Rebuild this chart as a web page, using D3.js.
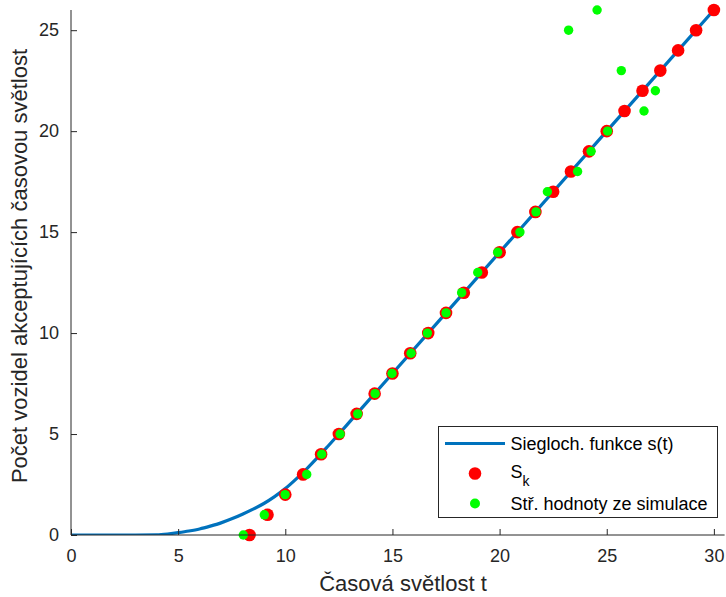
<!DOCTYPE html>
<html lang="cs">
<head>
  <meta charset="UTF-8">
  <title>Siegloch</title>
  <script src="https://d3js.org/d3.v7.min.js"></script>
  <style>
    body { margin: 0; background: #fff; }
    svg { display: block; font-family: "Liberation Sans", Arial, sans-serif; }
    .axis path, .axis line { stroke: #262626; }
    .axis text { fill: #262626; font-size: 18px; }
  </style>
</head>
<body>
  <svg width="726" height="597"></svg>
  <script>
    // Siegloch curve s(t)
    const curveT = [0, 2, 3, 4, 4.5, 5, 5.5, 6, 6.5, 7, 7.5, 8, 8.5, 9, 9.5, 10, 10.5, 11, 11.5, 12, 12.5, 13, 15, 20, 25, 30, 30.5];
    const curveS = [0, 0, 0, 0.01, 0.05, 0.12, 0.2, 0.3, 0.44, 0.6, 0.8, 1.03, 1.28, 1.56, 1.9, 2.3, 2.77, 3.28, 3.83, 4.41, 5.0, 5.6, 8.0, 14.0, 20.0, 26.0, 26.6];

    // S_k points
    const skK = d3.range(0, 27);
    const skT = [8.33, 9.17, 10.0, 10.83, 11.67, 12.5, 13.33, 14.17, 15.0, 15.83, 16.67, 17.5, 18.33, 19.17,
                 20.0, 20.83, 21.67, 22.5, 23.33, 24.17, 25.0, 25.83, 26.67, 27.5, 28.33, 29.17, 30.0];

    // mean values from simulation
    const simK = [0, 1, 2, 3, 4, 5, 6, 7, 8, 9, 10, 11, 12, 13, 14, 15, 16, 17, 18, 19, 20, 21, 22, 23, 25, 26];
    const simT = [8.04, 9.02, 9.99, 11.0, 11.7, 12.56, 13.38, 14.19, 14.98, 15.87, 16.63, 17.5, 18.23, 18.98,
                  19.91, 20.95, 21.7, 22.23, 23.64, 24.27, 25.04, 26.74, 27.27, 25.68, 23.22, 24.55];

    const xTicks = [0, 5, 10, 15, 20, 25, 30];
    const yTicks = [0, 5, 10, 15, 20, 25];

    const svg = d3.select("svg");
    const pl = 71, pr = 724.6, pt = 10, pb = 535;

    const x = d3.scaleLinear().domain([0, 30.5]).range([pl, pr]);
    const y = d3.scaleLinear().domain([0, 26]).range([pb, pt]);

    svg.append("defs").append("clipPath").attr("id", "plotclip")
      .append("rect").attr("x", pl).attr("y", pt).attr("width", pr - pl).attr("height", pb - pt);

    const line = d3.line()
      .x((d, i) => x(curveT[i]))
      .y(d => y(d))
      .curve(d3.curveMonotoneX);

    svg.append("path")
      .datum(curveS)
      .attr("clip-path", "url(#plotclip)")
      .attr("d", line)
      .attr("fill", "none")
      .attr("stroke", "#0072BD")
      .attr("stroke-width", 3.2);

    svg.selectAll("circle.sk")
      .data(skK)
      .join("circle")
      .attr("class", "sk")
      .attr("cx", (d, i) => x(skT[i]))
      .attr("cy", d => y(d))
      .attr("r", 6.3)
      .attr("fill", "#ff0000");

    svg.selectAll("circle.sim")
      .data(simK)
      .join("circle")
      .attr("class", "sim")
      .attr("cx", (d, i) => x(simT[i]))
      .attr("cy", d => y(d))
      .attr("r", 4.7)
      .attr("fill", "#00ff00");

    // axes with inward ticks
    const xAxis = svg.append("g")
      .attr("class", "axis")
      .attr("transform", `translate(0,${pb})`)
      .call(d3.axisBottom(x).tickValues(xTicks).tickSizeInner(-6).tickSizeOuter(0).tickPadding(14));
    xAxis.select(".domain").attr("d", `M${pl},0H${pr}`);

    const yAxis = svg.append("g")
      .attr("class", "axis")
      .attr("transform", `translate(${pl},0)`)
      .call(d3.axisLeft(y).tickValues(yTicks).tickSizeInner(-6).tickSizeOuter(0).tickPadding(12));
    yAxis.select(".domain").attr("d", `M0,${pb}V${pt}`);

    svg.append("text")
      .attr("x", 403)
      .attr("y", 591)
      .attr("text-anchor", "middle")
      .attr("font-size", "22px")
      .attr("fill", "#262626")
      .text("Časová světlost t");

    svg.append("text")
      .attr("transform", "translate(27,266) rotate(-90)")
      .attr("text-anchor", "middle")
      .attr("font-size", "22px")
      .attr("fill", "#262626")
      .text("Počet vozidel akceptujících časovou světlost");

    // legend
    const lg = svg.append("g");
    lg.append("rect")
      .attr("x", 438.5).attr("y", 426.5)
      .attr("width", 279).attr("height", 91)
      .attr("fill", "#fff").attr("stroke", "#262626").attr("stroke-width", 1);

    lg.append("line")
      .attr("x1", 445).attr("x2", 505)
      .attr("y1", 443.5).attr("y2", 443.5)
      .attr("stroke", "#0072BD").attr("stroke-width", 3.2);
    lg.append("circle").attr("cx", 475).attr("cy", 473.5).attr("r", 6.3).attr("fill", "#ff0000");
    lg.append("circle").attr("cx", 475).attr("cy", 503.5).attr("r", 5).attr("fill", "#00ff00");

    const lt = (yy) => lg.append("text")
      .attr("x", 510.5).attr("y", yy)
      .attr("font-size", "18px")
      .attr("fill", "#000");
    lt(450).text("Siegloch. funkce s(t)");
    const sk = lt(478);
    sk.append("tspan").text("S");
    sk.append("tspan").attr("dy", 8).attr("font-size", "14px").text("k");
    lt(510).text("Stř. hodnoty ze simulace");
  </script>
</body>
</html>
